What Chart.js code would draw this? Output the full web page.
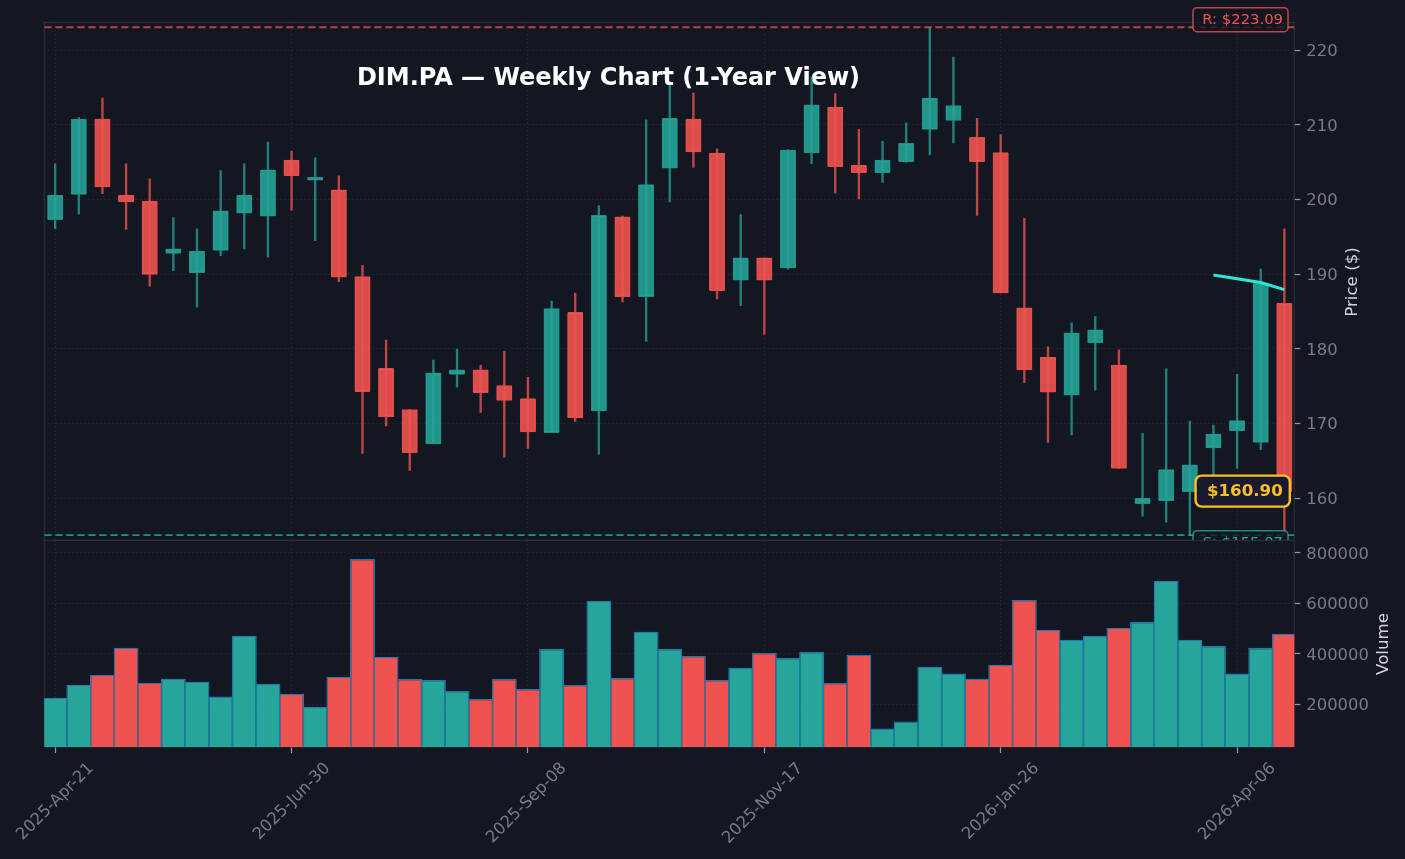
<!DOCTYPE html>
<html>
<head>
<meta charset="utf-8">
<title>DIM.PA Weekly Chart</title>
<script src="https://cdn.jsdelivr.net/npm/chart.js@4"></script>
<style>
    html, body { margin: 0; padding: 0; background: #131722; overflow: hidden; }
    canvas { position: absolute; left: 0; display: block; }
    #priceChart { top: 0; }
    #volumeChart { top: 540px; }
</style>
</head>
<body>
<canvas id="priceChart" width="1405" height="541"></canvas>
<canvas id="volumeChart" width="1405" height="319"></canvas>
<script>
// weekly candles
const opens = [197.3, 200.7, 210.8, 200.6, 199.8, 192.8, 190.2, 193.2, 198.2, 197.8, 205.3, 202.6, 201.3,
    189.7, 177.4, 171.9, 167.3, 176.6, 177.2, 175.1, 173.35, 168.8, 184.9, 171.7, 197.7, 187.0, 204.2,
    210.8, 206.25, 189.2, 192.2, 190.85, 206.25, 212.4, 204.6, 203.6, 205.1, 209.4, 210.6, 208.35,
    206.3, 185.5, 178.9, 173.8, 180.8, 177.85, 159.3, 159.7, 160.9, 166.75, 169.05, 167.5, 186.1];
const closes = [200.6, 210.8, 201.7, 199.7, 190.0, 193.4, 193.1, 198.5, 200.6, 204.0, 203.2, 203.0, 189.6,
    174.3, 170.9, 166.1, 176.8, 177.2, 174.15, 173.1, 168.9, 185.4, 170.8, 197.9, 187.0, 202.0, 210.9,
    206.4, 187.8, 192.2, 189.2, 206.65, 212.7, 204.4, 203.6, 205.3, 207.55, 213.6, 212.6, 205.1,
    187.5, 177.2, 174.2, 182.15, 182.55, 164.0, 160.0, 163.85, 164.5, 168.6, 170.4, 188.8, 160.9];
const highs = [204.8, 211.0, 213.6, 204.8, 202.8, 197.6, 196.1, 203.9, 204.8, 207.7, 206.5, 205.6, 203.2,
    191.2, 181.2, 171.9, 178.5, 180.0, 177.8, 179.7, 176.2, 186.4, 187.5, 199.2, 197.8, 210.7, 215.3,
    214.3, 206.8, 198.0, 192.2, 206.7, 216.4, 214.2, 209.4, 207.8, 210.3, 223.1, 219.1, 210.9,
    208.7, 197.5, 180.3, 183.5, 184.35, 179.9, 168.7, 177.35, 170.35, 169.8, 176.6, 190.7, 196.1];
const lows = [196.1, 198.1, 200.8, 196.0, 188.4, 190.5, 185.6, 192.5, 193.4, 192.3, 198.6, 194.5, 189.0,
    166.0, 169.7, 163.75, 167.3, 174.9, 171.5, 165.5, 166.7, 168.8, 170.3, 165.9, 186.3, 181.0, 199.7,
    204.3, 186.7, 185.8, 182.0, 190.7, 204.8, 200.9, 200.1, 202.3, 205.0, 206.0, 207.6, 197.9,
    187.5, 175.5, 167.5, 168.5, 174.5, 164.0, 157.6, 156.8, 155.0, 163.0, 164.0, 166.5, 155.2];
const volumes = [226700, 278000, 317700, 424500, 286000, 302000, 290000, 230700, 472000, 282000, 242500,
    191000, 309800, 776600, 389000, 301000, 297000, 253000, 221500, 301000, 261000, 420000, 277000,
    611000, 305000, 488000, 420000, 392000, 297000, 345000, 404000, 384000, 408000, 285000, 397000,
    104000, 132000, 349000, 322000, 302000, 357000, 614000, 496000, 456000, 472000, 504000, 527000,
    690000, 456000, 432000, 322000, 424000, 480000];

// short moving average, only the last four weeks are drawn
const trendIndexes = [49, 50, 51, 52];
const trendValues = [189.9, 189.4, 188.9, 187.95];

const resistance = 223.09;
const support = 155.07;
const lastPrice = 160.90;

const priceTicks = [160, 170, 180, 190, 200, 210, 220];
const volumeTicks = [200000, 400000, 600000, 800000];
const dateTickIndexes = [0, 10, 20, 30, 40, 50];
const dateTickLabels = ['2025-Apr-21', '2025-Jun-30', '2025-Sep-08', '2025-Nov-17', '2026-Jan-26', '2026-Apr-06'];

const chartTitle = 'DIM.PA — Weekly Chart (1-Year View)';

// colours
const UP = '#26a69a';
const DOWN = '#ef5350';
const GRID = '#2a2e39';
const TICK_TEXT = '#787b86';
const AXIS_TITLE = '#d1d4dc';
const FONT = '"DejaVu Sans", sans-serif';

const xMin = -0.46;
const xMax = 52.42;
const indexes = opens.map((_, i) => i);
const isUp = indexes.map(i => closes[i] >= opens[i]);

function setTicks(values) {
    return scale => { scale.ticks = values.map(v => ({ value: v })); };
}

function gridStyle() {
    return {
        color: GRID,
        lineWidth: 1,
        tickColor: '#9a9ca5',
        tickBorderDash: [],
        tickLength: 6,
        tickWidth: 1.2
    };
}

// dotted grid lines take their dash from the border option
const dottedBorder = { display: false, dash: [1.2, 2.8] };

// frame around a panel
const framePlugin = {
    id: 'frame',
    beforeDatasetsDraw(chart) {
        const a = chart.chartArea;
        const ctx = chart.ctx;
        ctx.save();
        ctx.strokeStyle = GRID;
        ctx.lineWidth = 1.2;
        ctx.strokeRect(a.left, a.top, a.right - a.left, a.bottom - a.top);
        ctx.restore();
    }
};

function drawAxisTitle(ctx, text, x, y) {
    ctx.save();
    ctx.translate(x, y);
    ctx.rotate(-Math.PI / 2);
    ctx.fillStyle = AXIS_TITLE;
    ctx.font = '16.67px ' + FONT;
    ctx.textAlign = 'center';
    ctx.textBaseline = 'middle';
    ctx.fillText(text, 0, 0);
    ctx.restore();
}

function drawTag(ctx, text, box, opt) {
    ctx.save();
    ctx.beginPath();
    ctx.roundRect(box.x, box.y, box.w, box.h, opt.radius);
    ctx.fillStyle = opt.fill;
    ctx.fill();
    ctx.lineWidth = opt.lineWidth;
    ctx.strokeStyle = opt.edge;
    ctx.stroke();
    ctx.fillStyle = opt.color;
    ctx.font = opt.font;
    ctx.textAlign = 'right';
    ctx.textBaseline = 'middle';
    ctx.fillText(text, box.x + box.w - opt.pad, box.y + box.h / 2 + 0.5);
    ctx.restore();
}

// title goes under the candles, the tags over them
const pricePlugin = {
    id: 'priceOverlay',
    beforeDatasetsDraw(chart) {
        const ctx = chart.ctx;
        ctx.save();
        ctx.fillStyle = '#ffffff';
        ctx.font = 'bold 24px ' + FONT;
        ctx.textAlign = 'center';
        ctx.textBaseline = 'middle';
        ctx.fillText(chartTitle, 608.5, 78.7);
        ctx.restore();
    },
    afterDraw(chart) {
        const ctx = chart.ctx;
        const y = chart.scales.y;

        drawTag(ctx, 'R: $' + resistance.toFixed(2),
            { x: 1193, y: y.getPixelForValue(resistance) - 19.5, w: 95, h: 24 },
            { radius: 4, fill: 'rgba(19,23,34,0.8)', edge: 'rgba(239,83,80,0.8)', lineWidth: 1.5, color: DOWN, font: '14.8px ' + FONT, pad: 5 });
        drawTag(ctx, 'S: $' + support.toFixed(2),
            { x: 1193, y: y.getPixelForValue(support) - 4.5, w: 95, h: 24 },
            { radius: 4, fill: 'rgba(19,23,34,0.8)', edge: 'rgba(38,166,154,0.8)', lineWidth: 1.5, color: UP, font: '14.8px ' + FONT, pad: 5 });
        drawTag(ctx, '$' + lastPrice.toFixed(2),
            { x: 1195.6, y: y.getPixelForValue(lastPrice) - 16, w: 94.2, h: 31 },
            { radius: 6, fill: '#1a1a2e', edge: '#fbbf24', lineWidth: 2.4, color: '#fbbf24', font: 'bold 16.67px ' + FONT, pad: 7 });

        drawAxisTitle(ctx, 'Price ($)', 1353, 282);
    }
};

const volumePlugin = {
    id: 'volumeOverlay',
    afterDraw(chart) {
        drawAxisTitle(chart.ctx, 'Volume', 1384, 104);
    }
};

// price panel
new Chart(document.getElementById('priceChart'), {
    type: 'bar',
    data: {
        datasets: [
            {
                label: 'Wick',
                order: 5,
                grouped: false,
                data: indexes.map(i => ({ x: i, y: [lows[i], highs[i]] })),
                backgroundColor: indexes.map(i => isUp[i] ? 'rgba(38,166,154,0.75)' : 'rgba(239,83,80,0.78)'),
                borderWidth: 0,
                barThickness: 1.7
            },
            {
                label: 'Body',
                order: 4,
                grouped: false,
                data: indexes.map(i => ({ x: i, y: [opens[i], closes[i]] })),
                backgroundColor: indexes.map(i => isUp[i] ? 'rgba(38,166,154,0.88)' : 'rgba(239,83,80,0.9)'),
                borderColor: indexes.map(i => isUp[i] ? '#1f8f85' : '#e04c4a'),
                borderWidth: 1,
                borderSkipped: false,
                borderRadius: 1,
                barThickness: 15.4
            },
            {
                type: 'line',
                label: 'Trend',
                order: 1,
                data: trendIndexes.map((idx, i) => ({ x: idx, y: trendValues[i] })),
                borderColor: '#2ee6d6',
                borderWidth: 3,
                pointRadius: 0
            },
            {
                type: 'line',
                label: 'Resistance',
                order: 2,
                data: [{ x: xMin, y: resistance }, { x: xMax, y: resistance }],
                borderColor: 'rgba(239,83,80,0.75)',
                borderWidth: 1.9,
                borderDash: [7.3, 3.7],
                pointRadius: 0
            },
            {
                type: 'line',
                label: 'Support',
                order: 2,
                data: [{ x: xMin, y: support }, { x: xMax, y: support }],
                borderColor: 'rgba(38,166,154,0.85)',
                borderWidth: 1.9,
                borderDash: [7.3, 3.7],
                pointRadius: 0
            }
        ]
    },
    options: {
        responsive: false,
        animation: false,
        layout: { padding: { left: 44.3, top: 22.5, right: 0, bottom: 0.7 } },
        plugins: { legend: { display: false }, title: { display: false }, tooltip: { enabled: false } },
        scales: {
            x: {
                type: 'linear',
                min: xMin,
                max: xMax,
                offset: false,
                afterBuildTicks: setTicks(dateTickIndexes),
                afterFit: s => { s.height = 0; s.paddingLeft = 0; s.paddingRight = 0; },
                border: dottedBorder,
                grid: Object.assign(gridStyle(), { offset: false, drawTicks: false }),
                ticks: { display: false }
            },
            y: {
                position: 'right',
                min: 154.38,
                max: 223.72,
                afterBuildTicks: setTicks(priceTicks),
                afterFit: s => { s.width = 110.7; s.paddingTop = 0; s.paddingBottom = 0; },
                border: dottedBorder,
                grid: gridStyle(),
                ticks: { color: TICK_TEXT, font: { family: FONT, size: 16.4 }, padding: 6, labelOffset: 1.5 }
            }
        }
    },
    plugins: [framePlugin, pricePlugin]
});

// volume panel
new Chart(document.getElementById('volumeChart'), {
    type: 'bar',
    data: {
        datasets: [{
            label: 'Volume',
            data: indexes.map(i => ({ x: i, y: volumes[i] })),
            backgroundColor: indexes.map(i => isUp[i] ? UP : DOWN),
            borderColor: '#1f77b4',
            borderWidth: 1.3,
            barPercentage: 1.055,
            categoryPercentage: 1
        }]
    },
    options: {
        responsive: false,
        animation: false,
        layout: { padding: { left: 44.3, top: 0.3, right: 0, bottom: 0 } },
        plugins: { legend: { display: false }, title: { display: false }, tooltip: { enabled: false } },
        scales: {
            x: {
                type: 'linear',
                min: xMin,
                max: xMax,
                offset: false,
                afterBuildTicks: setTicks(dateTickIndexes),
                afterFit: s => { s.height = 112; s.paddingLeft = 0; s.paddingRight = 0; },
                border: dottedBorder,
                grid: Object.assign(gridStyle(), { offset: false }),
                ticks: {
                    color: TICK_TEXT,
                    font: { family: FONT, size: 16.4 },
                    minRotation: 45,
                    maxRotation: 45,
                    labelOffset: 36,
                    padding: 6,
                    autoSkip: false,
                    callback: value => dateTickLabels[dateTickIndexes.indexOf(value)]
                }
            },
            y: {
                position: 'right',
                min: 31000,
                max: 850300,
                afterBuildTicks: setTicks(volumeTicks),
                afterFit: s => { s.width = 110.7; s.paddingTop = 0; s.paddingBottom = 0; },
                border: dottedBorder,
                grid: gridStyle(),
                ticks: { color: TICK_TEXT, font: { family: FONT, size: 16.4 }, padding: 6, labelOffset: 1.5, callback: value => String(value) }
            }
        }
    },
    plugins: [framePlugin, volumePlugin]
});
</script>
</body>
</html>
